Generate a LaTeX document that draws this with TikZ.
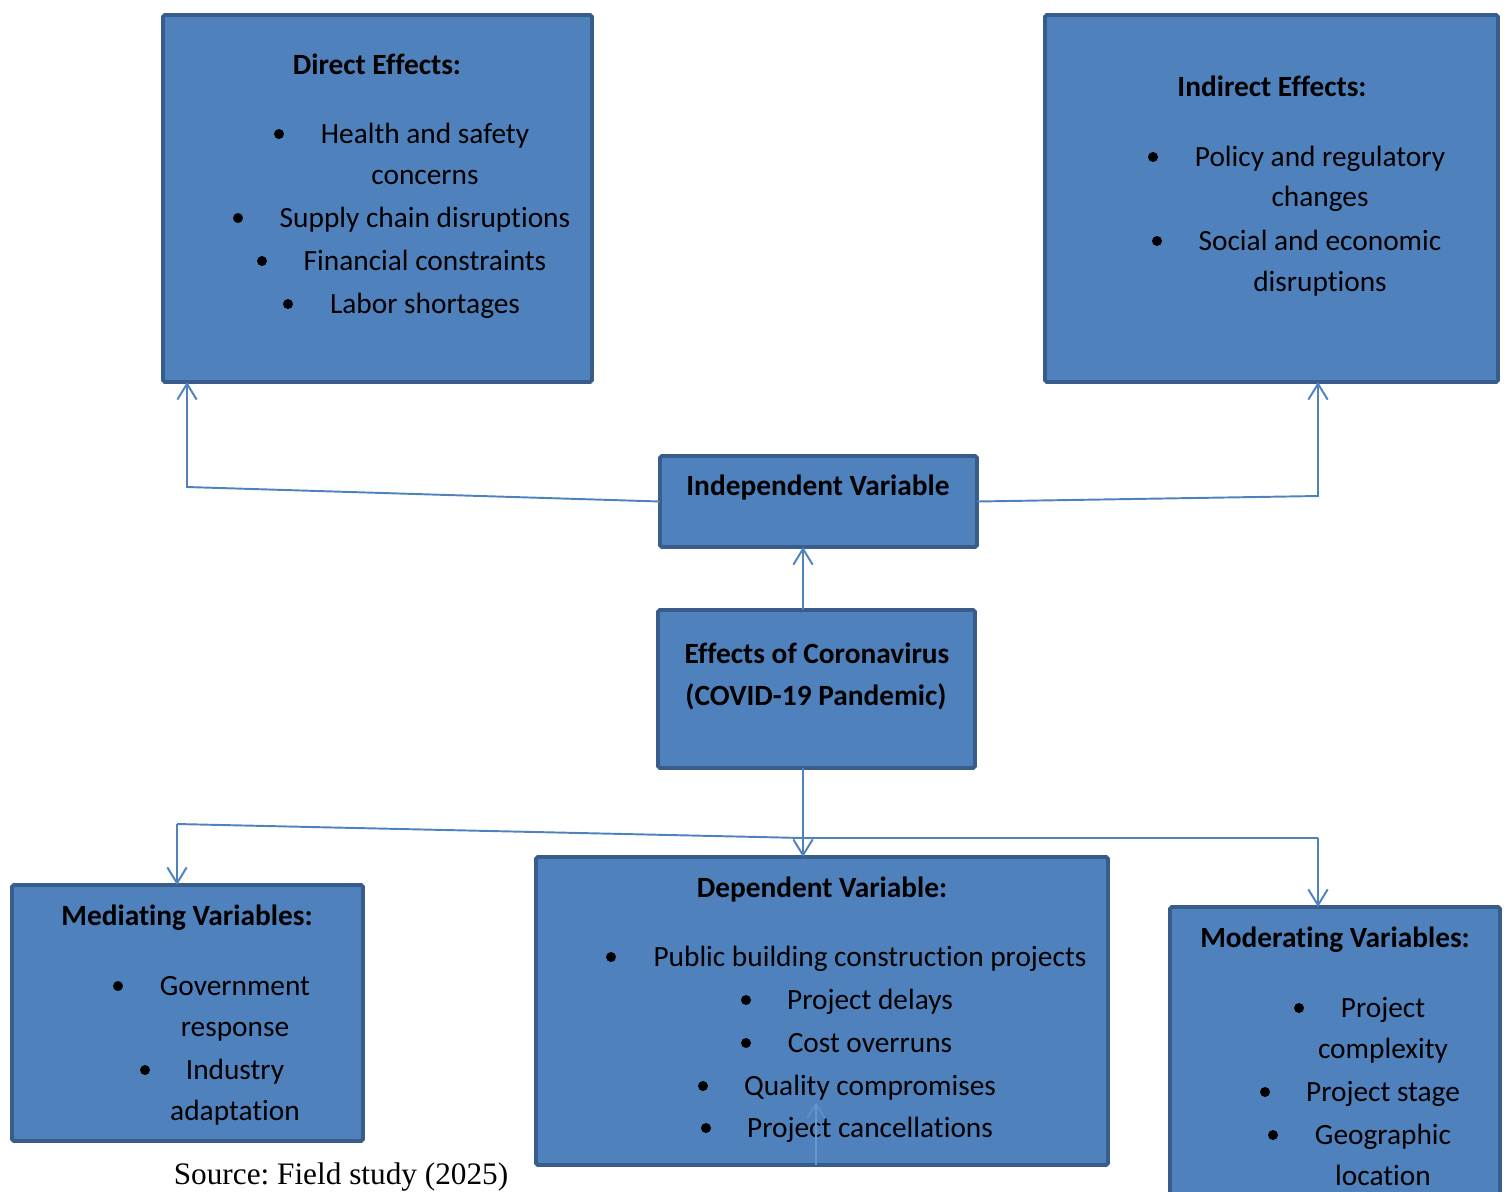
\documentclass[tikz,border=0pt]{standalone}
\usepackage{fontspec}
\setmainfont{Carlito}[Ligatures=NoCommon]
\newfontfamily\srcfont{Liberation Serif}
\usetikzlibrary{arrows.meta}

\definecolor{boxfill}{HTML}{4F81BD}
\definecolor{boxline}{HTML}{385D8A}
\definecolor{faintline}{HTML}{6B96CC}

\tikzset{
  box/.style={draw=boxline, line width=2.2pt, fill=boxfill, rounded corners=1pt,
    inner sep=0pt, outer sep=0pt},
  conn/.style={draw=boxfill, line width=1.1pt},
  arr/.style={-{Straight Barb[length=9pt,width=11pt,line width=1.1pt]}},
  txt/.style={anchor=base, inner sep=0pt, font=\fontsize{16.7}{20}\selectfont},
  ttl/.style={txt, font=\fontsize{16.7}{20}\selectfont\bfseries},
  dot/.style={circle, fill=black, inner sep=0pt, minimum size=0.2cm}
}

\begin{document}
\begin{tikzpicture}[x=0.02cm,y=-0.02cm]

	\useasboundingbox (0,0) rectangle (1510,1191);

	% boxes
	\node[box, minimum width=8.58cm, minimum height=7.34cm] (direct) at (377.5,198.5) {};
	\node[box, minimum width=9.06cm, minimum height=7.34cm] (indirect) at (1271.5,198.5) {};
	\node[box, minimum width=6.34cm, minimum height=1.82cm] (indep) at (818.5,501.5) {};
	\node[box, minimum width=6.34cm, minimum height=3.16cm] (effects) at (816.5,689) {};
	\node[box, minimum width=7.02cm, minimum height=5.12cm] (med) at (187.5,1013) {};
	\node[box, minimum width=11.44cm, minimum height=6.16cm] (dep) at (822,1011) {};
	\node[box, minimum width=6.6cm, minimum height=6.22cm] (mod) at (1335,1062.5) {};

	% direct effects
	\node[ttl] (dtitle) at (377,74) {Direct Effects:};
	\node[dot] (db1) at (279,134) {};
	\node[txt] (d1) at (425,143) {Health and safety};
	\node[txt] (d1a) at (425,184) {concerns};
	\node[dot] (db2) at (238,218) {};
	\node[txt] (d2) at (425,227) {Supply chain disruptions};
	\node[dot] (db3) at (262,261) {};
	\node[txt] (d3) at (425,270) {Financial constraints};
	\node[dot] (db4) at (288,304) {};
	\node[txt] (d4) at (425,313) {Labor shortages};

	% indirect effects
	\node[ttl] (ititle) at (1272,96) {Indirect Effects:};
	\node[dot] (ib1) at (1153,157) {};
	\node[txt] (i1) at (1320,166) {Policy and regulatory};
	\node[txt] (i1a) at (1320,206) {changes};
	\node[dot] (ib2) at (1157,241) {};
	\node[txt] (i2) at (1320,250) {Social and economic};
	\node[txt] (i2a) at (1320,291) {disruptions};

	% independent variable
	\node[ttl] (indeptitle) at (818,495) {Independent Variable};

	% effects of coronavirus
	\node[ttl] (etitle) at (817,663) {Effects of Coronavirus};
	\node[ttl] (etitle2) at (816,705) {(COVID-19 Pandemic)};

	% mediating variables
	\node[ttl] (medtitle) at (187,925) {Mediating Variables:};
	\node[dot] (mb1) at (118,986) {};
	\node[txt] (m1) at (235,995) {Government};
	\node[txt] (m1a) at (235,1036) {response};
	\node[dot] (mb2) at (145,1070) {};
	\node[txt] (m2) at (235,1079) {Industry};
	\node[txt] (m2a) at (235,1120) {adaptation};

	% dependent variable
	\node[ttl] (deptitle) at (822,897) {Dependent Variable:};
	\node[dot] (pb1) at (611,957) {};
	\node[txt] (p1) at (870,966) {Public building construction projects};
	\node[dot] (pb2) at (746,1000) {};
	\node[txt] (p2) at (870,1009) {Project delays};
	\node[dot] (pb3) at (746,1043) {};
	\node[txt] (p3) at (870,1052) {Cost overruns};
	\node[dot] (pb4) at (703,1086) {};
	\node[txt] (p4) at (870,1095) {Quality compromises};
	\node[dot] (pb5) at (706,1128) {};
	\node[txt] (p5) at (870,1137) {Project cancellations};

	% moderating variables
	\node[ttl] (modtitle) at (1335,947) {Moderating Variables:};
	\node[dot] (ob1) at (1299,1008) {};
	\node[txt] (o1) at (1383,1017) {Project};
	\node[txt] (o1a) at (1383,1058) {complexity};
	\node[dot] (ob2) at (1265,1092) {};
	\node[txt] (o2) at (1383,1101) {Project stage};
	\node[dot] (ob3) at (1273,1135) {};
	\node[txt] (o3) at (1383,1144) {Geographic};
	\node[txt] (o3a) at (1383,1185) {location};

	% source
	\node[anchor=base, inner sep=0pt, font=\srcfont\fontsize{17.8}{20}\selectfont\frenchspacing] (src) at (341,1184) {Source: Field study (2025)};

	% connectors
	\coordinate (dl) at (187,487);
	\coordinate (ir) at (1318,496);
	\coordinate (mx) at (803,0);
	\coordinate (ml) at (177,824);
	\coordinate (mr) at (1318,838);
	\coordinate (fa) at (816,1103);

	\draw[conn,arr] (indep.west) -- (dl) -- (dl |- direct.south);
	\draw[conn,arr] (indep.east) -- (ir) -- (ir |- indirect.south);
	\draw[conn,arr] (mx |- effects.north) -- (mx |- indep.south);
	\draw[conn,arr] (mx |- effects.south) -- (mx |- dep.north);
	\draw[conn] (ml) -- (mx |- mr) -- (mr);
	\draw[conn,arr] (ml) -- (ml |- med.north);
	\draw[conn,arr] (mr) -- (mr |- mod.north);
	\draw[draw=faintline, line width=0.6pt, -{Straight Barb[length=8pt,width=10pt,line width=0.6pt]}] (fa |- dep.south) -- (fa);

\end{tikzpicture}
\end{document}
